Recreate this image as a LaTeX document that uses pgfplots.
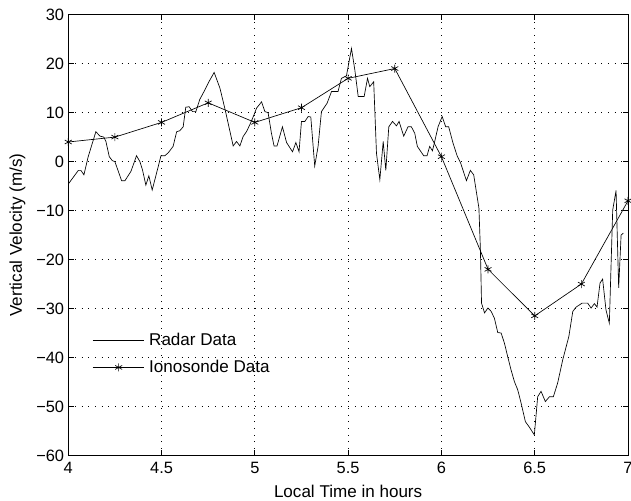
\documentclass[border=0pt]{standalone}
\usepackage{fontspec}
\setmainfont{Liberation Sans}
\usepackage{pgfplots}
\pgfplotsset{compat=1.18}

\pgfplotstableread{
x y
4.000 -4.6
4.054 -1.8
4.068 -1.8
4.084 -2.7
4.107 1.0
4.148 6.1
4.170 5.2
4.191 5.0
4.202 4.1
4.220 1.0
4.236 0.2
4.250 0.0
4.286 -3.9
4.304 -3.9
4.336 -2.0
4.366 1.2
4.384 0.0
4.398 -1.7
4.416 -4.8
4.432 -2.9
4.450 -5.8
4.473 -2.4
4.497 1.2
4.518 1.2
4.536 1.8
4.562 3.1
4.581 6.1
4.598 6.3
4.616 7.1
4.630 11.1
4.648 11.2
4.666 10.2
4.684 10.2
4.705 12.7
4.732 14.6
4.754 16.3
4.782 18.2
4.813 15.0
4.839 10.9
4.884 3.2
4.902 4.1
4.920 3.2
4.937 5.1
4.955 6.1
4.973 7.5
4.995 9.5
5.009 10.9
5.036 12.2
5.054 10.2
5.071 10.0
5.089 5.8
5.103 3.2
5.119 3.2
5.148 7.1
5.170 3.9
5.202 2.0
5.220 3.9
5.237 2.0
5.250 8.2
5.268 8.2
5.286 9.2
5.300 9.1
5.321 -0.9
5.339 3.1
5.357 10.2
5.387 11.9
5.411 14.3
5.446 14.3
5.464 17.0
5.491 17.5
5.518 23.1
5.536 18.7
5.554 13.3
5.586 13.3
5.604 17.0
5.616 15.3
5.637 16.3
5.652 1.7
5.670 -3.7
5.688 4.1
5.702 -1.8
5.718 7.1
5.738 8.2
5.759 7.3
5.773 8.2
5.798 5.2
5.821 7.1
5.839 7.1
5.857 5.8
5.871 3.1
5.905 1.2
5.923 1.2
5.937 3.1
5.952 2.2
5.964 4.1
5.982 7.1
6.004 9.2
6.023 7.1
6.039 7.1
6.062 3.8
6.084 1.2
6.103 -0.3
6.134 -3.9
6.155 -1.8
6.173 -2.7
6.187 -6.1
6.201 -9.5
6.209 -18.0
6.215 -28.9
6.231 -30.9
6.249 -29.9
6.267 -30.6
6.284 -32.0
6.302 -34.9
6.320 -35.0
6.338 -37.1
6.355 -39.8
6.373 -42.5
6.391 -44.9
6.409 -46.6
6.427 -49.3
6.450 -53.1
6.471 -54.2
6.498 -55.8
6.516 -48.0
6.534 -46.9
6.557 -49.0
6.579 -48.0
6.600 -48.0
6.623 -45.2
6.650 -40.5
6.683 -35.7
6.704 -30.6
6.722 -29.7
6.754 -28.9
6.784 -28.9
6.802 -29.9
6.820 -29.0
6.834 -29.7
6.850 -24.8
6.864 -24.0
6.882 -30.3
6.900 -33.0
6.918 -9.9
6.936 -5.9
6.950 -25.8
6.963 -15.0
6.975 -14.6
}\radar

\pgfplotstableread{
x y
4.00 4
4.25 5
4.50 8
4.75 12
5.00 8
5.25 11
5.50 17
5.75 19
6.00 1
6.25 -22
6.50 -31.5
6.75 -25
7.00 -8
}\iono

\begin{document}
\begin{tikzpicture}
\begin{axis}[
  scale only axis,
  width=420pt, height=330.75pt,
  xmin=4, xmax=7, ymin=-60, ymax=30,
  xtick={4,4.5,...,7}, ytick={-60,-50,...,30},
  xticklabels={4,4.5,5,5.5,6,6.5,7},
  yticklabels={−60,−50,−40,−30,−20,−10,0,10,20,30},
  grid=major,
  major grid style={dash pattern=on 0.6pt off 4.4pt, line width=0.5pt, black},
  axis line style={line width=0.6pt},
  tick align=inside,
  tick style={black, line width=0.5pt},
  major tick length=4pt,
  ticklabel style={font=\fontsize{12.3}{14}\selectfont},
  xticklabel style={yshift=-1.5pt},
  yticklabel style={xshift=0.4pt},
  xlabel={Local Time in hours},
  ylabel={Vertical Velocity (m/s)},
  xlabel style={at={(axis description cs:0.5,-0.0948)}, anchor=base,
    font=\fontsize{12.8}{15}\selectfont},
  ylabel style={at={(axis description cs:-0.0907,0.5)}, anchor=center,
    font=\fontsize{12.8}{15}\selectfont},
  legend style={draw=none, fill=none, at={(0.0358,0.29)}, anchor=north west,
    font=\fontsize{12.8}{15}\selectfont, row sep=5.5pt, nodes={inner xsep=3.3pt}},
  legend cell align=left,
  legend image code/.code={\draw[#1] (0pt,0pt) -- (38.7pt,0pt);
    \draw[#1, mark repeat=2, mark phase=2] plot coordinates {(0pt,0pt) (19.35pt,0pt) (38.7pt,0pt)};},
]
\addplot[black, line width=0.5pt, mark=none] table {\radar};
\addlegendentry{Radar Data}
\addplot[black, line width=0.5pt, mark=asterisk, mark size=3pt] table {\iono};
\addlegendentry{Ionosonde Data}
\end{axis}
\pgfresetboundingbox
\path ([xshift=-51.2pt,yshift=-34pt]current axis.south west) rectangle ([xshift=2.25pt,yshift=11pt]current axis.north east);
\end{tikzpicture}
\end{document}
